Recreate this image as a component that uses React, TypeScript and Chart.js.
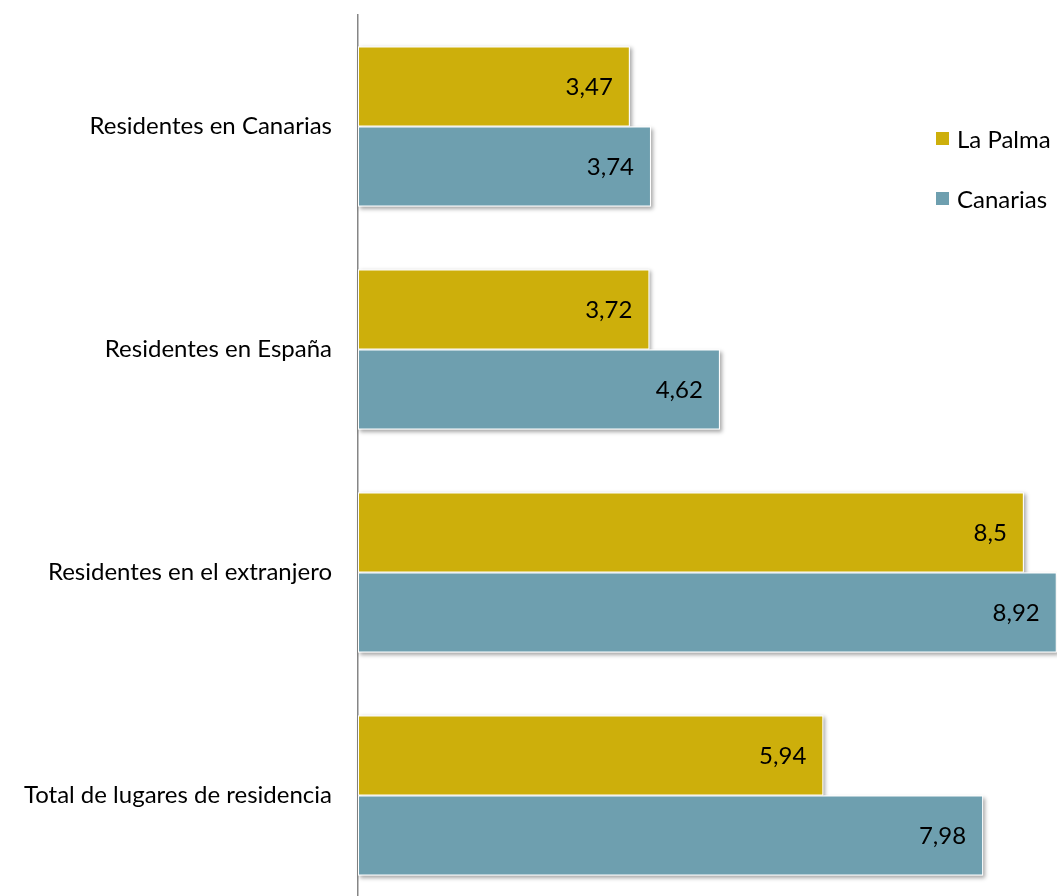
import React, { useEffect, useRef } from "react";
import { Chart, registerables } from "chart.js";

Chart.register(...registerables);

const categories = [
  "Residentes en Canarias",
  "Residentes en España",
  "Residentes en el extranjero",
  "Total de lugares de residencia",
];
const laPalma = [3.47, 3.72, 8.5, 5.94];
const canarias = [3.74, 4.62, 8.92, 7.98];
const seriesNames = ["La Palma", "Canarias"];
const seriesColors = ["#CDAF0B", "#6E9FAF"];

const FONT = "Lato, 'Open Sans', sans-serif";
const fmt = (v: number) => String(v).replace(".", ",");

const shadowPlugin = {
  id: "barShadow",
  beforeDatasetsDraw(chart: any) {
    const ctx = chart.ctx;
    ctx.save();
    chart.data.datasets.forEach((_: any, i: number) => {
      const meta = chart.getDatasetMeta(i);
      meta.data.forEach((el: any) => {
        const p = el.getProps(["x", "y", "base", "height"], true);
        const left = Math.min(p.x, p.base);
        const w = Math.abs(p.x - p.base);
        ctx.save();
        ctx.shadowColor = "rgba(0,0,0,0.35)";
        ctx.shadowBlur = 4;
        ctx.shadowOffsetX = 2;
        ctx.shadowOffsetY = 2;
        ctx.fillStyle = "#ffffff";
        ctx.fillRect(left, p.y - p.height / 2, w, p.height);
        ctx.restore();
      });
    });
    ctx.restore();
  },
};

const labelPlugin = {
  id: "valueLabels",
  afterDatasetsDraw(chart: any) {
    const ctx = chart.ctx;
    ctx.save();
    ctx.font = `24px ${FONT}`;
    ctx.fillStyle = "#000000";
    ctx.textAlign = "right";
    ctx.textBaseline = "middle";
    chart.data.datasets.forEach((ds: any, i: number) => {
      const meta = chart.getDatasetMeta(i);
      meta.data.forEach((el: any, j: number) => {
        const p = el.getProps(["x", "y"], true);
        ctx.fillText(fmt(ds.data[j]), p.x - 17, p.y + 1);
      });
    });
    ctx.restore();
  },
};

const legendPlugin = {
  id: "customLegend",
  afterDraw(chart: any) {
    const ctx = chart.ctx;
    ctx.save();
    ctx.font = `24px ${FONT}`;
    ctx.textBaseline = "middle";
    ctx.textAlign = "left";
    chart.data.datasets.forEach((ds: any, i: number) => {
      const cy = 139 + i * 60;
      ctx.fillStyle = ds.backgroundColor;
      ctx.fillRect(936, cy - 7, 13, 13);
      ctx.fillStyle = "#000000";
      ctx.fillText(ds.label, 957, cy + 1);
    });
    ctx.restore();
  },
};

export default function App() {
  const ref = useRef<HTMLCanvasElement>(null);
  useEffect(() => {
    if (!ref.current) return;
    const chart = new Chart(ref.current, {
      type: "bar",
      data: {
        labels: categories,
        datasets: [
          {
            label: seriesNames[0],
            data: laPalma,
            backgroundColor: seriesColors[0],
            borderColor: "#ffffff",
            borderWidth: 1,
            borderSkipped: false,
          },
          {
            label: seriesNames[1],
            data: canarias,
            backgroundColor: seriesColors[1],
            borderColor: "#ffffff",
            borderWidth: 1,
            borderSkipped: false,
          },
        ],
      },
      options: {
        indexAxis: "y",
        responsive: false,
        animation: false,
        layout: { padding: { top: 15, left: 0, right: 0, bottom: 0 } },
        datasets: {
          bar: { categoryPercentage: 0.7175, barPercentage: 1 },
        },
        plugins: {
          legend: { display: false },
          tooltip: { enabled: false },
          title: { display: false },
        },
        scales: {
          x: {
            display: false,
            min: 0,
            max: 9,
          },
          y: {
            z: 1,
            grid: { drawOnChartArea: false, drawTicks: false, display: true },
            border: { display: true, color: "#868686", width: 1.5 },
            ticks: {
              padding: 26,
              color: "#000000",
              font: { family: FONT, size: 24 },
            },
            afterFit: (scale: any) => {
              scale.width = 358;
              scale.paddingTop = 0;
              scale.paddingBottom = 0;
            },
          },
        },
      } as any,
      plugins: [shadowPlugin, labelPlugin, legendPlugin],
    });
    return () => chart.destroy();
  }, []);

  return (
    <div style={{ position: "fixed", left: 0, top: 0, width: 1063, height: 907, background: "#ffffff" }}>
      <canvas ref={ref} width={1063} height={907} style={{ display: "block" }} />
    </div>
  );
}
